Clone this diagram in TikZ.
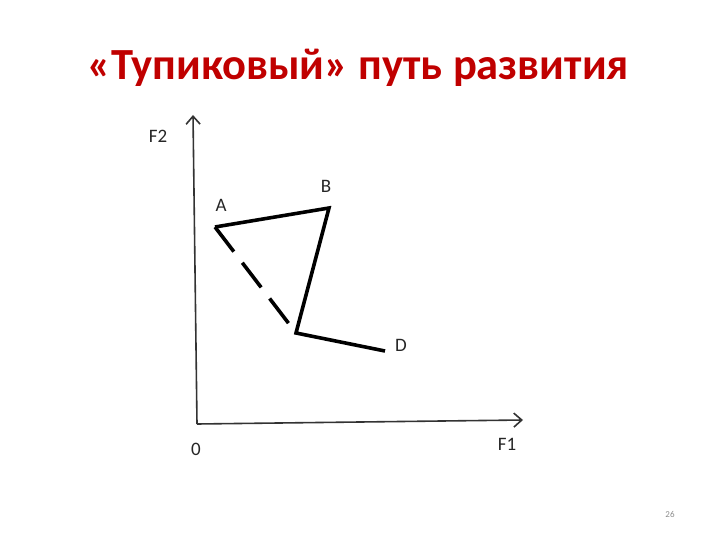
\documentclass[tikz,border=0pt]{standalone}
\usepackage{fontspec}
\setmainfont{Carlito}
\usetikzlibrary{arrows.meta}
\definecolor{titlered}{RGB}{192,0,0}

\begin{document}
\begin{tikzpicture}[x=1pt, y=-1pt, >={Straight Barb[length=8pt, width=14pt]},
    font=\fontsize{19}{21}\selectfont,
    axis/.style={->, line width=1.6pt, black!80},
    route/.style={line width=3.6pt, black},
    lbl/.style={text=black!85}]

    \useasboundingbox (0,0) rectangle (720,540);

    % --- 1. Title ---
    \node[anchor=base, text=titlered, font=\fontsize{44.5}{48}\bfseries\selectfont] (title)
        at (358,80) {«Тупиковый» путь развития};

    % --- 2. Axes ---
    \coordinate (O) at (197,424);
    \coordinate (Xend) at (523,420);
    \coordinate (Yend) at (193,115);
    \draw[axis] (O) -- (Xend);
    \draw[axis] (O) -- (Yend);

    % --- 3. Path points ---
    \coordinate (A) at (215,227);
    \coordinate (B) at (329,208);
    \coordinate (C) at (296,333);
    \coordinate (D) at (385,351);

    % A -> B -> C -> D
    \draw[route] (A) -- (B) -- (C) -- (D);
    % dashed return C -> A
    \draw[route, dash pattern=on 31pt off 14pt] (A) -- (C);

    % --- 4. Labels ---
    \node[lbl] (lblA) at (221,205) {A};
    \node[lbl] (lblB) at (326,186) {B};
    \node[lbl] (lblD) at (401,345) {D};
    \node[lbl] (lblF2) at (158,136) {F2};
    \node[lbl] (lblF1) at (507,444) {F1};
    \node[lbl] (lblO) at (196,449) {0};

    % page number
    \node[text=black!45, font=\fontsize{9}{10}\selectfont] (page) at (670,514) {26};

\end{tikzpicture}
\end{document}
